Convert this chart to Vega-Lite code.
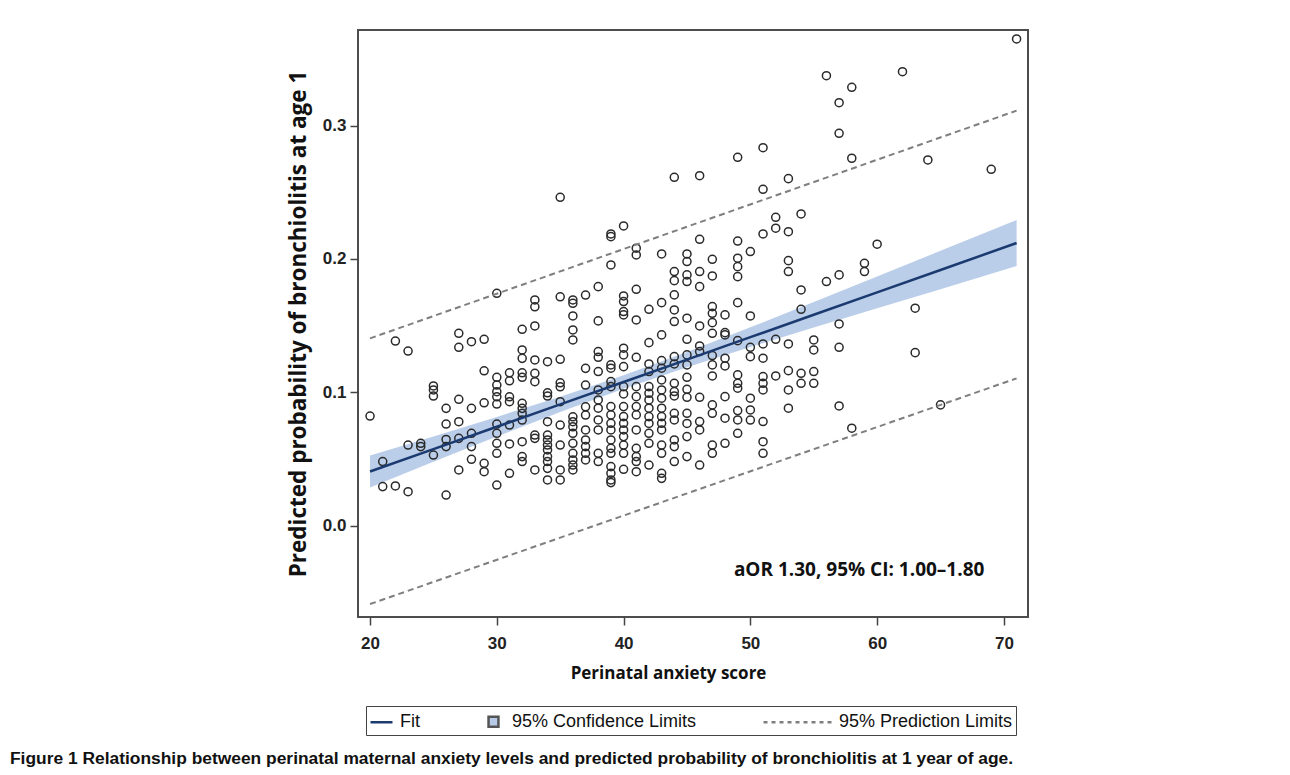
{
  "$schema": "https://vega.github.io/schema/vega-lite/v6.json",
  "width": 670,
  "height": 587,
  "autosize": {"type": "none"},
  "padding": {"left": 358, "top": 30, "right": 262, "bottom": 158},
  "background": "white",
  "title": {
    "text": "Figure 1 Relationship between perinatal maternal anxiety levels and predicted probability of bronchiolitis at 1 year of age.",
    "orient": "bottom", "anchor": "start", "frame": "group", "dx": -348, "offset": 14,
    "font": "Liberation Sans", "fontSize": 17.4, "fontWeight": "bold", "color": "#111111"
  },
  "datasets": {
    "points": [
      {"x":20,"y":0.0821},
      {"x":21,"y":0.0480},{"x":21,"y":0.0292},
      {"x":22,"y":0.1384},{"x":22,"y":0.0297},
      {"x":23,"y":0.1309},{"x":23,"y":0.0604},{"x":23,"y":0.0254},
      {"x":24,"y":0.0617},{"x":24,"y":0.0592},
      {"x":25,"y":0.1047},{"x":25,"y":0.1017},{"x":25,"y":0.0971},{"x":25,"y":0.0529},
      {"x":26,"y":0.0879},{"x":26,"y":0.0761},{"x":26,"y":0.0646},{"x":26,"y":0.0592},{"x":26,"y":0.0229},
      {"x":27,"y":0.1442},{"x":27,"y":0.1337},{"x":27,"y":0.0947},{"x":27,"y":0.0779},{"x":27,"y":0.0654},{"x":27,"y":0.0417},
      {"x":28,"y":0.1379},{"x":28,"y":0.0879},{"x":28,"y":0.0692},{"x":28,"y":0.0592},{"x":28,"y":0.0497},
      {"x":29,"y":0.1397},{"x":29,"y":0.1161},{"x":29,"y":0.0921},{"x":29,"y":0.0467},{"x":29,"y":0.0404},
      {"x":30,"y":0.1742},{"x":30,"y":0.1112},{"x":30,"y":0.1054},{"x":30,"y":0.1004},{"x":30,"y":0.0966},{"x":30,"y":0.0911},{"x":30,"y":0.0761},{"x":30,"y":0.0692},{"x":30,"y":0.0617},{"x":30,"y":0.0542},{"x":30,"y":0.0304},
      {"x":31,"y":0.1146},{"x":31,"y":0.1086},{"x":31,"y":0.0966},{"x":31,"y":0.0929},{"x":31,"y":0.0754},{"x":31,"y":0.0612},{"x":31,"y":0.0392},
      {"x":32,"y":0.1472},{"x":32,"y":0.1317},{"x":32,"y":0.1254},{"x":32,"y":0.1146},{"x":32,"y":0.1112},{"x":32,"y":0.0917},{"x":32,"y":0.0879},{"x":32,"y":0.0842},{"x":32,"y":0.0791},{"x":32,"y":0.0629},{"x":32,"y":0.0517},{"x":32,"y":0.0480},
      {"x":33,"y":0.1692},{"x":33,"y":0.1641},{"x":33,"y":0.1497},{"x":33,"y":0.1242},{"x":33,"y":0.1142},{"x":33,"y":0.1079},{"x":33,"y":0.0679},{"x":33,"y":0.0654},{"x":33,"y":0.0417},
      {"x":34,"y":0.1229},{"x":34,"y":0.0996},{"x":34,"y":0.0971},{"x":34,"y":0.0779},{"x":34,"y":0.0679},{"x":34,"y":0.0642},{"x":34,"y":0.0604},{"x":34,"y":0.0567},{"x":34,"y":0.0517},{"x":34,"y":0.0480},{"x":34,"y":0.0429},{"x":34,"y":0.0342},
      {"x":35,"y":0.2462},{"x":35,"y":0.1716},{"x":35,"y":0.1247},{"x":35,"y":0.1071},{"x":35,"y":0.1041},{"x":35,"y":0.0929},{"x":35,"y":0.0754},{"x":35,"y":0.0604},{"x":35,"y":0.0417},{"x":35,"y":0.0342},
      {"x":36,"y":0.1692},{"x":36,"y":0.1667},{"x":36,"y":0.1572},{"x":36,"y":0.1467},{"x":36,"y":0.1392},{"x":36,"y":0.0816},{"x":36,"y":0.0779},{"x":36,"y":0.0741},{"x":36,"y":0.0692},{"x":36,"y":0.0617},{"x":36,"y":0.0542},{"x":36,"y":0.0492},{"x":36,"y":0.0454},{"x":36,"y":0.0417},
      {"x":37,"y":0.1729},{"x":37,"y":0.1179},{"x":37,"y":0.1054},{"x":37,"y":0.0891},{"x":37,"y":0.0829},{"x":37,"y":0.0717},{"x":37,"y":0.0642},{"x":37,"y":0.0592},{"x":37,"y":0.0542},{"x":37,"y":0.0492},
      {"x":38,"y":0.1792},{"x":38,"y":0.1535},{"x":38,"y":0.1305},{"x":38,"y":0.1262},{"x":38,"y":0.1155},{"x":38,"y":0.1017},{"x":38,"y":0.0942},{"x":38,"y":0.0880},{"x":38,"y":0.0792},{"x":38,"y":0.0717},{"x":38,"y":0.0542},{"x":38,"y":0.0480},
      {"x":39,"y":0.2187},{"x":39,"y":0.2167},{"x":39,"y":0.1955},{"x":39,"y":0.1205},{"x":39,"y":0.1180},{"x":39,"y":0.1080},{"x":39,"y":0.1042},{"x":39,"y":0.0892},{"x":39,"y":0.0830},{"x":39,"y":0.0767},{"x":39,"y":0.0717},{"x":39,"y":0.0642},{"x":39,"y":0.0579},{"x":39,"y":0.0542},{"x":39,"y":0.0442},{"x":39,"y":0.0392},{"x":39,"y":0.0342},{"x":39,"y":0.0322},
      {"x":40,"y":0.2247},{"x":40,"y":0.1722},{"x":40,"y":0.1680},{"x":40,"y":0.1605},{"x":40,"y":0.1580},{"x":40,"y":0.1330},{"x":40,"y":0.1280},{"x":40,"y":0.1192},{"x":40,"y":0.1042},{"x":40,"y":0.0987},{"x":40,"y":0.0892},{"x":40,"y":0.0817},{"x":40,"y":0.0767},{"x":40,"y":0.0717},{"x":40,"y":0.0667},{"x":40,"y":0.0604},{"x":40,"y":0.0542},{"x":40,"y":0.0422},
      {"x":41,"y":0.2080},{"x":41,"y":0.2030},{"x":41,"y":0.1772},{"x":41,"y":0.1542},{"x":41,"y":0.1262},{"x":41,"y":0.1042},{"x":41,"y":0.0967},{"x":41,"y":0.0892},{"x":41,"y":0.0830},{"x":41,"y":0.0717},{"x":41,"y":0.0579},{"x":41,"y":0.0517},{"x":41,"y":0.0480},{"x":41,"y":0.0404},
      {"x":42,"y":0.1622},{"x":42,"y":0.1372},{"x":42,"y":0.1212},{"x":42,"y":0.1155},{"x":42,"y":0.1042},{"x":42,"y":0.0992},{"x":42,"y":0.0942},{"x":42,"y":0.0880},{"x":42,"y":0.0817},{"x":42,"y":0.0766},{"x":42,"y":0.0692},{"x":42,"y":0.0617},{"x":42,"y":0.0454},
      {"x":43,"y":0.2037},{"x":43,"y":0.1672},{"x":43,"y":0.1430},{"x":43,"y":0.1237},{"x":43,"y":0.1180},{"x":43,"y":0.1092},{"x":43,"y":0.1017},{"x":43,"y":0.0955},{"x":43,"y":0.0880},{"x":43,"y":0.0817},{"x":43,"y":0.0767},{"x":43,"y":0.0717},{"x":43,"y":0.0604},{"x":43,"y":0.0542},{"x":43,"y":0.0392},{"x":43,"y":0.0354},
      {"x":44,"y":0.2612},{"x":44,"y":0.1905},{"x":44,"y":0.1837},{"x":44,"y":0.1730},{"x":44,"y":0.1617},{"x":44,"y":0.1530},{"x":44,"y":0.1267},{"x":44,"y":0.1212},{"x":44,"y":0.1067},{"x":44,"y":0.1005},{"x":44,"y":0.0972},{"x":44,"y":0.0842},{"x":44,"y":0.0792},{"x":44,"y":0.0642},{"x":44,"y":0.0592},{"x":44,"y":0.0480},
      {"x":45,"y":0.2037},{"x":45,"y":0.1980},{"x":45,"y":0.1880},{"x":45,"y":0.1830},{"x":45,"y":0.1555},{"x":45,"y":0.1397},{"x":45,"y":0.1280},{"x":45,"y":0.1205},{"x":45,"y":0.1112},{"x":45,"y":0.1022},{"x":45,"y":0.0962},{"x":45,"y":0.0842},{"x":45,"y":0.0766},{"x":45,"y":0.0667},{"x":45,"y":0.0517},
      {"x":46,"y":0.2624},{"x":46,"y":0.2147},{"x":46,"y":0.1905},{"x":46,"y":0.1792},{"x":46,"y":0.1497},{"x":46,"y":0.1347},{"x":46,"y":0.1305},{"x":46,"y":0.0962},{"x":46,"y":0.0780},{"x":46,"y":0.0717},{"x":46,"y":0.0454},
      {"x":47,"y":0.1997},{"x":47,"y":0.1872},{"x":47,"y":0.1642},{"x":47,"y":0.1592},{"x":47,"y":0.1522},{"x":47,"y":0.1442},{"x":47,"y":0.1275},{"x":47,"y":0.1205},{"x":47,"y":0.1122},{"x":47,"y":0.0905},{"x":47,"y":0.0842},{"x":47,"y":0.0604},{"x":47,"y":0.0542},
      {"x":48,"y":0.1580},{"x":48,"y":0.1447},{"x":48,"y":0.1430},{"x":48,"y":0.1255},{"x":48,"y":0.1197},{"x":48,"y":0.0967},{"x":48,"y":0.0805},{"x":48,"y":0.0617},
      {"x":49,"y":0.2762},{"x":49,"y":0.2134},{"x":49,"y":0.2005},{"x":49,"y":0.1942},{"x":49,"y":0.1867},{"x":49,"y":0.1672},{"x":49,"y":0.1387},{"x":49,"y":0.1130},{"x":49,"y":0.1067},{"x":49,"y":0.1030},{"x":49,"y":0.0862},{"x":49,"y":0.0792},{"x":49,"y":0.0692},
      {"x":50,"y":0.2055},{"x":50,"y":0.1572},{"x":50,"y":0.1337},{"x":50,"y":0.1267},{"x":50,"y":0.0955},{"x":50,"y":0.0867},{"x":50,"y":0.0791},
      {"x":51,"y":0.2834},{"x":51,"y":0.2522},{"x":51,"y":0.2187},{"x":51,"y":0.1362},{"x":51,"y":0.1255},{"x":51,"y":0.1117},{"x":51,"y":0.1067},{"x":51,"y":0.1017},{"x":51,"y":0.0780},{"x":51,"y":0.0629},{"x":51,"y":0.0542},
      {"x":52,"y":0.2312},{"x":52,"y":0.2230},{"x":52,"y":0.1397},{"x":52,"y":0.1122},
      {"x":53,"y":0.2602},{"x":53,"y":0.2204},{"x":53,"y":0.1987},{"x":53,"y":0.1905},{"x":53,"y":0.1362},{"x":53,"y":0.1162},{"x":53,"y":0.1017},{"x":53,"y":0.0880},
      {"x":54,"y":0.2337},{"x":54,"y":0.1767},{"x":54,"y":0.1622},{"x":54,"y":0.1142},{"x":54,"y":0.1067},
      {"x":55,"y":0.1392},{"x":55,"y":0.1317},{"x":55,"y":0.1155},{"x":55,"y":0.1067},
      {"x":56,"y":0.3374},{"x":56,"y":0.1830},
      {"x":57,"y":0.3172},{"x":57,"y":0.2942},{"x":57,"y":0.1880},{"x":57,"y":0.1512},{"x":57,"y":0.1337},{"x":57,"y":0.0897},
      {"x":58,"y":0.3287},{"x":58,"y":0.2755},{"x":58,"y":0.0730},
      {"x":59,"y":0.1967},{"x":59,"y":0.1905},
      {"x":60,"y":0.2110},
      {"x":62,"y":0.3404},
      {"x":63,"y":0.1630},{"x":63,"y":0.1297},
      {"x":64,"y":0.2742},
      {"x":65,"y":0.0905},
      {"x":69,"y":0.2672},
      {"x":71,"y":0.3650}
    ],
    "fit": [
      {"x":20,"fit":0.0405,"lo":0.0285,"hi":0.0525},
      {"x":25,"fit":0.0573,"lo":0.0478,"hi":0.0668},
      {"x":30,"fit":0.0741,"lo":0.0667,"hi":0.0815},
      {"x":35,"fit":0.0909,"lo":0.0852,"hi":0.0966},
      {"x":40,"fit":0.1077,"lo":0.1027,"hi":0.1127},
      {"x":45,"fit":0.1245,"lo":0.1188,"hi":0.1302},
      {"x":50,"fit":0.1413,"lo":0.1339,"hi":0.1487},
      {"x":55,"fit":0.1581,"lo":0.1486,"hi":0.1676},
      {"x":60,"fit":0.1749,"lo":0.1630,"hi":0.1868},
      {"x":65,"fit":0.1917,"lo":0.1773,"hi":0.2061},
      {"x":71,"fit":0.2119,"lo":0.1947,"hi":0.2291}
    ],
    "pred": [
      {"x":20,"bound":"upper","value":0.1404},
      {"x":71,"bound":"upper","value":0.3112},
      {"x":20,"bound":"lower","value":-0.0589},
      {"x":71,"bound":"lower","value":0.1104}
    ],
    "series": [
      {"series":"Fit"},
      {"series":"95% Confidence Limits"},
      {"series":"95% Prediction Limits"}
    ],
    "note": [
      {"x":48.7,"y":-0.0330,"label":"aOR 1.30, 95% CI: 1.00–1.80"}
    ]
  },
  "layer": [
    {
      "data": {"name": "fit"},
      "mark": {"type": "area", "color": "#b3c9e8", "opacity": 0.9},
      "encoding": {
        "x": {"field": "x", "type": "quantitative", "scale": {"domain": [19.05, 71.9], "nice": false, "zero": false},
          "axis": {"values": [20,30,40,50,60,70], "title": "Perinatal anxiety score", "titleFontSize": 17, "titlePadding": 14, "labelPadding": 10, "titleX": 310}},
        "y": {"field": "lo", "type": "quantitative", "scale": {"domain": [-0.0686, 0.3717], "nice": false, "zero": false},
          "axis": {"values": [0,0.1,0.2,0.3], "format": ".1f", "title": "Predicted probability of bronchiolitis at age 1", "titleFontSize": 22.5, "titlePadding": 12, "labelPadding": 4}},
        "y2": {"field": "hi"}
      }
    },
    {
      "data": {"name": "points"},
      "mark": {"type": "point", "shape": "circle", "filled": false, "stroke": "#2a2a2a", "strokeWidth": 1.5, "size": 65, "opacity": 1},
      "encoding": {
        "x": {"field": "x", "type": "quantitative"},
        "y": {"field": "y", "type": "quantitative"}
      }
    },
    {
      "data": {"name": "pred"},
      "mark": {"type": "line", "color": "#7f7f7f", "strokeDash": [6, 4], "strokeWidth": 2},
      "encoding": {
        "x": {"field": "x", "type": "quantitative"},
        "y": {"field": "value", "type": "quantitative"},
        "detail": {"field": "bound"}
      }
    },
    {
      "data": {"name": "fit"},
      "mark": {"type": "line", "color": "#1b3a70", "strokeWidth": 2.5},
      "encoding": {
        "x": {"field": "x", "type": "quantitative"},
        "y": {"field": "fit", "type": "quantitative"}
      }
    },
    {
      "data": {"name": "note"},
      "mark": {"type": "text", "align": "left", "baseline": "middle", "font": "Open Sans", "fontSize": 19, "fontWeight": "bold", "color": "#111111"},
      "encoding": {
        "x": {"field": "x", "type": "quantitative"},
        "y": {"field": "y", "type": "quantitative"},
        "text": {"field": "label"}
      }
    },
    {
      "data": {"name": "series"},
      "mark": {"type": "point", "filled": false, "opacity": 0},
      "encoding": {
        "fill": {
          "field": "series", "type": "nominal",
          "scale": {"domain": ["Fit", "95% Confidence Limits", "95% Prediction Limits"], "range": ["transparent", "#b7cbe8", "transparent"]},
          "legend": {
            "orient": "none", "legendX": 8, "legendY": 676, "direction": "horizontal", "title": null,
            "strokeColor": "#444444", "fillColor": "white", "padding": 3,
            "labelFont": "Liberation Sans", "labelFontSize": 18, "labelColor": "#111111", "labelOffset": 6, "labelLimit": 0,
            "columnPadding": 61, "symbolSize": 484, "symbolStrokeWidth": 2.5, "symbolOpacity": 1,
            "encode": {"legend": {"strokeWidth": {"value": 2}}}
          }
        },
        "stroke": {
          "field": "series", "type": "nominal",
          "scale": {"domain": ["Fit", "95% Confidence Limits", "95% Prediction Limits"], "range": ["#1b3a70", "#555555", "#7f7f7f"]}
        },
        "shape": {
          "field": "series", "type": "nominal",
          "scale": {"domain": ["Fit", "95% Confidence Limits", "95% Prediction Limits"], "range": ["M-1,0H1", "M-0.45,-0.45H0.45V0.45H-0.45Z", "M-5.18,0H1"]}
        },
        "strokeDash": {
          "field": "series", "type": "nominal",
          "scale": {"domain": ["Fit", "95% Confidence Limits", "95% Prediction Limits"], "range": [[1, 0], [1, 0], [4, 4]]}
        }
      }
    }
  ],
  "config": {
    "view": {"stroke": "#4d4d4d", "strokeWidth": 2},
    "axis": {
      "grid": false, "domain": false, "tickSize": 8, "tickColor": "#444444", "tickWidth": 1.5,
      "labelFont": "Liberation Sans", "labelFontSize": 17, "labelFontWeight": "bold", "labelColor": "#222222",
      "titleFont": "Open Sans", "titleFontSize": 15, "titleFontWeight": "bold", "titleColor": "#111111"
    }
  }
}
